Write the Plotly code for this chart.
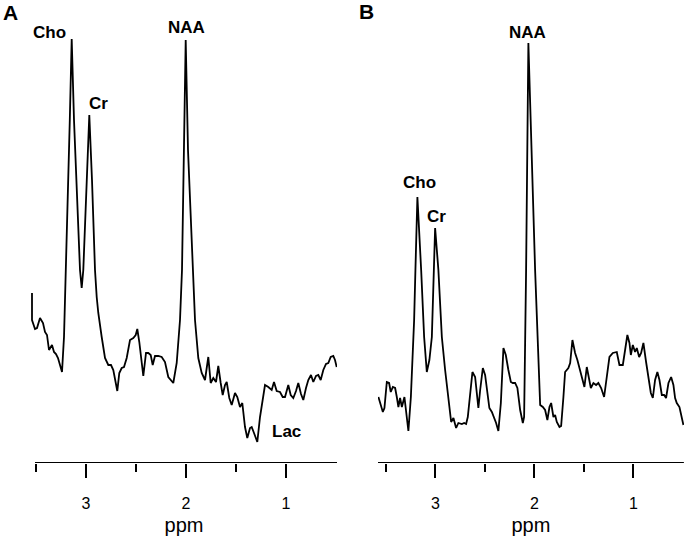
import plotly.graph_objects as go

# Panel A spectrum (chemical shift in ppm, signal intensity in arbitrary units)
ppm_a = [3.54, 3.54, 3.51, 3.49, 3.46, 3.43, 3.41, 3.39, 3.37, 3.34, 3.32, 3.30, 3.28, 3.24, 3.22, 3.20,
         3.162, 3.143, 3.12, 3.06, 3.043, 3.027, 2.995, 2.967, 2.94, 2.91,
         2.893, 2.877, 2.843, 2.81, 2.777, 2.75, 2.727, 2.687, 2.667, 2.643, 2.62, 2.593, 2.56, 2.527,
         2.503, 2.487, 2.467, 2.443, 2.427, 2.40, 2.377, 2.353, 2.333, 2.31, 2.277, 2.243, 2.21, 2.177,
         2.153, 2.127, 2.093, 2.06, 2.04, 2.02, 2.003, 1.98, 1.933, 1.91, 1.877, 1.843, 1.81, 1.793,
         1.777, 1.753, 1.727, 1.70, 1.677, 1.653, 1.633, 1.61, 1.593, 1.567, 1.543, 1.51, 1.487, 1.46,
         1.437, 1.41, 1.387, 1.36, 1.343, 1.32, 1.287, 1.26, 1.21, 1.177, 1.143, 1.12, 1.093, 1.06,
         1.033, 1.01, 0.977, 0.953, 0.927, 0.90, 0.877, 0.85, 0.827, 0.80, 0.777, 0.75, 0.727, 0.70,
         0.677, 0.653, 0.627, 0.60, 0.577, 0.553, 0.527, 0.51, 0.493]
int_a = [170, 143, 134, 135, 145, 140, 131, 128, 113, 118, 111, 109, 105, 91, 126, 193,
         343, 424, 343, 193, 175, 193, 283, 348, 283, 193,
         166, 150, 126, 105, 98, 98, 93, 72, 90, 95, 96, 105, 123, 125,
         128, 134, 121, 103, 87, 110, 110, 108, 98, 107, 107, 106, 101, 86,
         83, 80, 100, 143, 193, 313, 423, 313, 193, 143, 105, 90, 83, 93,
         106, 80, 85, 81, 97, 80, 68, 78, 81, 65, 58, 70, 66, 56,
         60, 36, 25, 35, 36, 30, 21, 46, 78, 76, 73, 81, 72, 71,
         66, 66, 78, 68, 65, 72, 80, 69, 63, 75, 83, 88, 81, 87,
         88, 83, 93, 99, 100, 106, 107, 103, 96]

# Panel B spectrum
ppm_b = [3.576, 3.559, 3.531, 3.515, 3.491, 3.468, 3.451, 3.430, 3.407, 3.390, 3.374, 3.357, 3.339,
         3.313, 3.296, 3.273, 3.248, 3.215, 3.202, 3.182, 3.144, 3.114, 3.087, 3.061, 3.036, 3.020,
         3.003, 2.970, 2.935, 2.902, 2.869, 2.841, 2.818, 2.791, 2.768, 2.733, 2.710, 2.690, 2.673,
         2.649, 2.626, 2.599, 2.582, 2.566, 2.548, 2.521, 2.498, 2.475, 2.455, 2.430, 2.407, 2.387,
         2.364, 2.339, 2.313, 2.289, 2.263, 2.238, 2.218, 2.195, 2.172, 2.144, 2.117, 2.104, 2.084,
         2.061, 1.993, 1.960, 1.942, 1.915, 1.892, 1.869, 1.848, 1.831, 1.808, 1.791, 1.774, 1.747,
         1.730, 1.707, 1.690, 1.657, 1.639, 1.616, 1.589, 1.566, 1.538, 1.511, 1.495, 1.471, 1.455,
         1.430, 1.404, 1.377, 1.354, 1.326, 1.296, 1.269, 1.242, 1.208, 1.168, 1.141, 1.107, 1.084,
         1.061, 1.040, 1.026, 1.006, 0.983, 0.966, 0.942, 0.922, 0.899, 0.872, 0.848, 0.824, 0.804,
         0.781, 0.758, 0.737, 0.713, 0.690, 0.670, 0.646, 0.619, 0.596, 0.579, 0.562, 0.535, 0.511, 0.495]
int_b = [66, 60, 51, 55, 81, 80, 71, 76, 75, 66, 56, 65, 56,
         66, 53, 32, 66, 143, 193, 266, 193, 126, 91, 103, 126, 193,
         235, 193, 126, 93, 63, 41, 45, 35, 40, 39, 40, 39, 46,
         73, 91, 86, 68, 55, 73, 95, 88, 70, 55, 51, 46, 40,
         32, 60, 115, 108, 93, 81, 80, 80, 75, 53, 40, 46, 193,
         420, 193, 93, 58, 56, 53, 43, 56, 60, 46, 48, 41, 36,
         37, 66, 91, 95, 100, 123, 110, 103, 93, 83, 76, 96, 86,
         75, 80, 78, 80, 75, 66, 86, 106, 110, 111, 98, 98, 113,
         128, 120, 108, 118, 111, 115, 106, 110, 120, 101, 86, 70, 65,
         83, 91, 83, 68, 68, 65, 80, 86, 78, 65, 60, 56, 46, 38]

major_ticks = [3, 2, 1]
major_labels = ["3", "2", "1"]
minor_ticks = [3.5, 2.5, 1.5]

W, H = 685, 537
FONT = "Liberation Sans, Arial, Helvetica, sans-serif"
line = dict(color="black", width=1.8)

fig = go.Figure()
fig.add_trace(go.Scatter(x=ppm_a, y=int_a, mode="lines", line=line, xaxis="x", yaxis="y",
                         showlegend=False, hoverinfo="skip"))
fig.add_trace(go.Scatter(x=ppm_b, y=int_b, mode="lines", line=line, xaxis="x2", yaxis="y2",
                         showlegend=False, hoverinfo="skip"))

xcommon = dict(
    showgrid=False, zeroline=False, showline=False,
    tickmode="array", tickvals=major_ticks, ticktext=major_labels,
    ticks="outside", ticklen=14, tickwidth=1.5, tickcolor="black",
    ticklabelstandoff=12,
    tickfont=dict(family=FONT, size=16, color="black"),
    minor=dict(tickmode="array", tickvals=minor_ticks, ticks="outside", ticklen=8,
               tickwidth=1.5, tickcolor="black", showgrid=False),
    title=dict(text="ppm", font=dict(family=FONT, size=20, color="black"), standoff=6),
)
fig.update_layout(
    width=W, height=H,
    margin=dict(l=0, r=0, t=0, b=74),
    paper_bgcolor="white", plot_bgcolor="white",
    xaxis=dict(xcommon, range=[3.55, 0.49], domain=[31 / W, 337 / W], anchor="y"),
    xaxis2=dict(xcommon, range=[3.58, 0.49], domain=[378 / W, 683.9 / W], anchor="y2"),
    yaxis=dict(range=[0, 463], domain=[0, 1], visible=False, anchor="x"),
    yaxis2=dict(range=[0, 463], domain=[0, 1], visible=False, anchor="x2"),
)

# axis baselines
fig.add_shape(type="line", xref="x", yref="y", x0=3.51, x1=0.49, y0=0, y1=0,
              line=dict(color="black", width=2))
fig.add_shape(type="line", xref="x2", yref="y2", x0=3.58, x1=0.49, y0=0, y1=0,
              line=dict(color="black", width=2))

lab_font = dict(family=FONT, size=17, color="black")
peak_labels = [
    ("x", "y", 3.37, 431, "Cho"),
    ("x", "y", 2.88, 360, "Cr"),
    ("x", "y", 2.00, 436, "NAA"),
    ("x", "y", 1.00, 32, "Lac"),
    ("x2", "y2", 3.16, 281, "Cho"),
    ("x2", "y2", 2.986, 247, "Cr"),
    ("x2", "y2", 2.07, 431, "NAA"),
]
for xr, yr, xv, yv, t in peak_labels:
    fig.add_annotation(x=xv, y=yv, xref=xr, yref=yr, text="<b>%s</b>" % t, showarrow=False,
                       font=lab_font, xanchor="center", yanchor="middle")

panel_font = dict(family=FONT, size=21, color="black")
fig.add_annotation(x=10.3 / W, y=1 - 12.5 / 463, xref="paper", yref="paper", text="<b>A</b>",
                   showarrow=False, font=panel_font, xanchor="center", yanchor="middle")
fig.add_annotation(x=366.7 / W, y=1 - 11 / 463, xref="paper", yref="paper", text="<b>B</b>",
                   showarrow=False, font=panel_font, xanchor="center", yanchor="middle")

fig.write_html("out.html", config={"displayModeBar": False},
               post_script="document.body.style.margin='0';")
